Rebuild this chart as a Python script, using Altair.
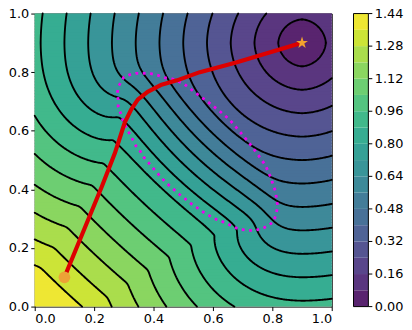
import math
import heapq
from collections import defaultdict
import numpy as np
import pandas as pd
import altair as alt

alt.data_transformers.disable_max_rows()

# ---------------- values ----------------
goal_xy = [0.90, 0.90]
start_xy = [0.10, 0.10]

path_x = [0.100, 0.226, 0.270, 0.303, 0.325, 0.347, 0.380, 0.424, 0.479, 0.556, 0.678, 0.900]
path_y = [0.100, 0.410, 0.524, 0.628, 0.673, 0.706, 0.733, 0.756, 0.772, 0.800, 0.833, 0.900]

obstacle_outline = [
    (0.278, 0.730), (0.283, 0.753), (0.300, 0.783), (0.319, 0.791), (0.341, 0.796),
    (0.366, 0.796), (0.391, 0.795), (0.415, 0.789), (0.437, 0.781), (0.463, 0.777),
    (0.501, 0.761), (0.545, 0.727), (0.582, 0.699), (0.619, 0.670), (0.656, 0.638),
    (0.689, 0.599), (0.719, 0.562), (0.749, 0.522), (0.777, 0.482), (0.796, 0.437),
    (0.811, 0.391), (0.818, 0.342), (0.813, 0.317), (0.806, 0.294), (0.789, 0.277),
    (0.767, 0.267), (0.745, 0.261), (0.720, 0.260), (0.697, 0.263), (0.673, 0.270),
    (0.650, 0.282), (0.627, 0.292), (0.605, 0.300), (0.585, 0.312), (0.563, 0.325),
    (0.542, 0.341), (0.524, 0.353), (0.505, 0.369), (0.487, 0.383), (0.468, 0.400),
    (0.450, 0.416), (0.433, 0.433), (0.416, 0.452), (0.400, 0.471), (0.383, 0.491),
    (0.369, 0.507), (0.356, 0.529), (0.341, 0.548), (0.331, 0.568), (0.319, 0.590),
    (0.308, 0.612), (0.297, 0.634), (0.290, 0.658), (0.281, 0.681), (0.281, 0.706),
    (0.278, 0.730),
]

# slow region (ellipse) used by the travel-time field
obstacle_center = [0.55, 0.53]
obstacle_axes = [0.352, 0.152]
obstacle_angle_deg = -45.0
obstacle_min_speed = 0.60
obstacle_blur = 0.03

levels = [0.00, 0.08, 0.16, 0.24, 0.32, 0.40, 0.48, 0.56, 0.64, 0.72,
          0.80, 0.88, 0.96, 1.04, 1.12, 1.20, 1.28, 1.36, 1.44]
colorbar_ticks = [0.00, 0.16, 0.32, 0.48, 0.64, 0.80, 0.96, 1.12, 1.28, 1.44]
colorbar_labels = ["0.00", "0.16", "0.32", "0.48", "0.64", "0.80", "0.96", "1.12", "1.28", "1.44"]
axis_ticks = [0.0, 0.2, 0.4, 0.6, 0.8, 1.0]
fill_alpha = 0.9

# five-pointed star marker outline (unit symbol coordinates)
STAR_PATH = ("M0,-1L0.2245,-0.309L0.951,-0.309L0.363,0.118L0.588,0.809L0,0.382"
             "L-0.588,0.809L-0.363,0.118L-0.951,-0.309L-0.2245,-0.309Z")

# layout of the colorbar strip, in x-data units right of the plot
PLOT_W, PLOT_H = 300, 296
cb_left, cb_right = 322 / PLOT_W, 337 / PLOT_W
cb_tick_end = cb_right + 4 / PLOT_W

# ---------------- travel-time field (fast marching) ----------------
N = 301
g = np.linspace(0.0, 1.0, N)
h = float(g[1] - g[0])
GX, GY = np.meshgrid(g, g)
th = math.radians(obstacle_angle_deg)
ddx = GX - obstacle_center[0]
ddy = GY - obstacle_center[1]
uu = ddx * math.cos(th) + ddy * math.sin(th)
vv = -ddx * math.sin(th) + ddy * math.cos(th)
r2 = (uu / obstacle_axes[0]) ** 2 + (vv / obstacle_axes[1]) ** 2
mask = (r2 < 1.0).astype(float)
rad = int(math.ceil(3 * obstacle_blur / h))
kern = np.exp(-0.5 * ((np.arange(-rad, rad + 1) * h) / obstacle_blur) ** 2)
kern /= kern.sum()
padm = np.pad(mask, rad)
tmp = np.array([np.convolve(r, kern, mode="valid") for r in padm])
blur = np.array([np.convolve(c, kern, mode="valid") for c in tmp.T]).T
speed = 1.0 - (1.0 - obstacle_min_speed) * blur


def travel_time(speed, h, src):
    ny, nx = speed.shape
    sp = speed.ravel().tolist()
    INF = float("inf")
    T = [INF] * (nx * ny)
    known = [False] * (nx * ny)
    heap = []
    si, sj = src[0] / h, src[1] / h
    for j in range(max(0, int(sj) - 3), min(ny, int(sj) + 4)):
        for i in range(max(0, int(si) - 3), min(nx, int(si) + 4)):
            d = math.hypot(i - si, j - sj)
            if d <= 2.0:
                k = j * nx + i
                T[k] = d * h / sp[k]
                heap.append((T[k], k))
    heapq.heapify(heap)
    sqrt = math.sqrt
    while heap:
        t, k = heapq.heappop(heap)
        if known[k]:
            continue
        known[k] = True
        j, i = divmod(k, nx)
        for kk, ok in ((k - 1, i > 0), (k + 1, i < nx - 1), (k - nx, j > 0), (k + nx, j < ny - 1)):
            if not ok or known[kk]:
                continue
            jj, ii = divmod(kk, nx)
            a = INF
            if ii > 0 and known[kk - 1]:
                a = T[kk - 1]
            if ii < nx - 1 and known[kk + 1] and T[kk + 1] < a:
                a = T[kk + 1]
            b = INF
            if jj > 0 and known[kk - nx]:
                b = T[kk - nx]
            if jj < ny - 1 and known[kk + nx] and T[kk + nx] < b:
                b = T[kk + nx]
            f = h / sp[kk]
            if a > b:
                a, b = b, a
            if b - a >= f:
                tn = a + f
            else:
                tn = 0.5 * (a + b + sqrt(2 * f * f - (b - a) * (b - a)))
            if tn < T[kk]:
                T[kk] = tn
                heapq.heappush(heap, (tn, kk))
    return np.array(T).reshape(ny, nx)


T = travel_time(speed, h, goal_xy)

# ---------------- filled bands as row runs (edges lie under the contour lines) ----------------
lv = np.array(levels)
mids = (lv[:-1] + lv[1:]) / 2.0
step = 3
gs = g[::step]
Ts = T[::step, ::step]
Ms = len(gs)
hs = float(gs[1] - gs[0])
band = np.clip(np.searchsorted(lv, Ts, side="right") - 1, 0, len(lv) - 2)
edges = np.concatenate([[0.0], (gs[:-1] + gs[1:]) / 2.0, [1.0]])
recs = []
for j in range(Ms):
    row = band[j]
    ch = np.flatnonzero(np.diff(row)) + 1
    starts = np.concatenate([[0], ch])
    ends = np.concatenate([ch, [Ms]])
    y0 = edges[j]
    y1 = min(1.0, edges[j + 1] + 0.4 * hs)
    for s, e in zip(starts, ends):
        recs.append((round(edges[s], 5), round(min(1.0, edges[e] + 0.4 * hs), 5),
                     round(y0, 5), round(y1, 5), round(float(mids[row[s]]), 3)))
rect_df = pd.DataFrame(recs, columns=["x0", "x1", "y0", "y1", "mid"])


# ---------------- contour lines (marching squares, chained into polylines) ----------------
def iso_segments(F, g, L):
    hh = g[1] - g[0]
    a = F[:-1, :-1]
    b = F[:-1, 1:]
    c = F[1:, 1:]
    d = F[1:, :-1]
    shp = a.shape
    X0 = np.broadcast_to(g[:-1][None, :], shp)
    X1 = np.broadcast_to(g[1:][None, :], shp)
    Y0 = np.broadcast_to(g[:-1][:, None], shp)
    Y1 = np.broadcast_to(g[1:][:, None], shp)
    with np.errstate(divide="ignore", invalid="ignore"):
        ex = np.stack([X0 + (L - a) / (b - a) * hh, X1, X0 + (L - d) / (c - d) * hh, X0])
        ey = np.stack([Y0, Y0 + (L - b) / (c - b) * hh, Y1, Y0 + (L - a) / (d - a) * hh])
    sa, sb, sc, sd = a > L, b > L, c > L, d > L
    m = np.stack([sa != sb, sb != sc, sd != sc, sa != sd])
    cnt = m.sum(axis=0)
    segs = []
    jj, ii = np.nonzero(cnt == 2)
    if len(jj):
        mm = m[:, jj, ii]
        e1 = np.argmax(mm, axis=0)
        e2 = 3 - np.argmax(mm[::-1], axis=0)
        segs.append(np.column_stack([ex[e1, jj, ii], ey[e1, jj, ii], ex[e2, jj, ii], ey[e2, jj, ii]]))
    for j, i in zip(*np.nonzero(cnt == 4)):
        ctr = (a[j, i] + b[j, i] + c[j, i] + d[j, i]) / 4.0 > L
        pairs = [(0, 3), (1, 2)] if sa[j, i] != ctr else [(0, 1), (2, 3)]
        for p, q in pairs:
            segs.append(np.array([[ex[p, j, i], ey[p, j, i], ex[q, j, i], ey[q, j, i]]]))
    return np.vstack(segs) if segs else np.zeros((0, 4))


def chain(segs):
    adj = defaultdict(list)
    keys = []
    for idx, (x1, y1, x2, y2) in enumerate(segs):
        k1 = (round(float(x1), 9), round(float(y1), 9))
        k2 = (round(float(x2), 9), round(float(y2), 9))
        adj[k1].append((idx, k2))
        adj[k2].append((idx, k1))
        keys.append(k1)
    used = [False] * len(segs)
    lines = []
    starts = [k for k, v in adj.items() if len(v) == 1] + keys
    for st in starts:
        for idx, nxt in adj[st]:
            if used[idx]:
                continue
            used[idx] = True
            line = [st, nxt]
            cur = nxt
            while True:
                found = False
                for i2, n2 in adj[cur]:
                    if not used[i2]:
                        used[i2] = True
                        cur = n2
                        line.append(cur)
                        found = True
                        break
                if not found:
                    break
            lines.append(line)
    return lines


rows = []
cid = 0
for L in levels[1:-1]:
    for line in chain(iso_segments(T, g, L)):
        for o, (px, py) in enumerate(line):
            rows.append((round(px, 5), round(py, 5), cid, o))
        cid += 1
line_df = pd.DataFrame(rows, columns=["x", "y", "cid", "o"])

path_df = pd.DataFrame({"x": path_x, "y": path_y, "o": list(range(len(path_x)))})
obs_df = pd.DataFrame({"x": [p[0] for p in obstacle_outline],
                       "y": [p[1] for p in obstacle_outline],
                       "o": list(range(len(obstacle_outline)))})
start_df = pd.DataFrame({"x": [start_xy[0]], "y": [start_xy[1]]})
goal_df = pd.DataFrame({"x": [goal_xy[0]], "y": [goal_xy[1]]})
overlay_df = pd.DataFrame({"x0": [0.0], "x1": [1.0], "y0": [0.0], "y1": [1.0]})

# colorbar: value axis 0..1.44 shown along the plot height
vmax = levels[-1]
cb_df = pd.DataFrame({"x0": cb_left, "x1": cb_right,
                      "y0": lv[:-1] / vmax, "y1": lv[1:] / vmax, "mid": mids})
cb_frame_df = pd.DataFrame({"x0": [cb_left], "x1": [cb_right], "y0": [0.0], "y1": [1.0]})
cb_tick_df = pd.DataFrame({"x0": cb_right, "x1": cb_tick_end,
                           "y": np.array(colorbar_ticks) / vmax, "label": colorbar_labels})

# ---------------- chart ----------------
FONT = "DejaVu Sans"
xs = alt.Scale(domain=[0, 1], nice=False, zero=False)
ys = alt.Scale(domain=[0, 1], nice=False, zero=False)
color_scale = alt.Scale(scheme="viridis", domain=[levels[0], levels[-1]])
axis_common = dict(title=None, grid=False, domain=False, ticks=True, tickSize=4,
                   tickColor="black", tickWidth=1, labelColor="black",
                   labelFontSize=13, labelFont=FONT, labelPadding=2)
x_axis = alt.Axis(values=axis_ticks, format=".1f", orient="bottom", **axis_common)
y_axis = alt.Axis(values=axis_ticks, format=".1f", orient="left", **axis_common)


def X(f):
    return alt.X(f, type="quantitative", scale=xs, axis=x_axis)


def Y(f):
    return alt.Y(f, type="quantitative", scale=ys, axis=y_axis)


layers = [alt.Chart(rect_df).mark_rect(strokeWidth=0).encode(
    x=X("x0"), x2="x1:Q", y=Y("y0"), y2="y1:Q",
    color=alt.Color("mid:Q", scale=color_scale, legend=None))]
if fill_alpha < 1.0:
    layers.append(alt.Chart(overlay_df).mark_rect(color="white", opacity=1.0 - fill_alpha).encode(
        x=X("x0"), x2="x1:Q", y=Y("y0"), y2="y1:Q"))
layers.append(alt.Chart(line_df).mark_line(color="black", strokeWidth=1.9, strokeJoin="round",
                                           strokeCap="round").encode(
    x=X("x"), y=Y("y"), detail="cid:N", order="o:Q"))
layers.append(alt.Chart(obs_df).mark_line(color="#ee00ee", strokeWidth=2.8, strokeDash=[2.8, 4.6],
                                          strokeCap="butt").encode(x=X("x"), y=Y("y"), order="o:Q"))
layers.append(alt.Chart(path_df).mark_line(color="#dd0000", strokeWidth=4.2, strokeJoin="round",
                                           strokeCap="butt").encode(x=X("x"), y=Y("y"), order="o:Q"))
layers.append(alt.Chart(start_df).mark_circle(size=140, color="#eca336", opacity=1).encode(
    x=X("x"), y=Y("y")))
layers.append(alt.Chart(goal_df).mark_point(shape=STAR_PATH, filled=True, size=160, color="#f2a32e",
                                            opacity=1).encode(x=X("x"), y=Y("y")))

# colorbar strip
layers.append(alt.Chart(cb_df).mark_rect(strokeWidth=0, clip=False).encode(
    x=X("x0"), x2="x1:Q", y=Y("y0"), y2="y1:Q",
    color=alt.Color("mid:Q", scale=color_scale, legend=None)))
if fill_alpha < 1.0:
    layers.append(alt.Chart(cb_frame_df).mark_rect(color="white", opacity=1.0 - fill_alpha, clip=False).encode(
        x=X("x0"), x2="x1:Q", y=Y("y0"), y2="y1:Q"))
layers.append(alt.Chart(cb_frame_df).mark_rect(fillOpacity=0, stroke="black", strokeWidth=1, clip=False).encode(
    x=X("x0"), x2="x1:Q", y=Y("y0"), y2="y1:Q"))
layers.append(alt.Chart(cb_tick_df).mark_rule(color="black", strokeWidth=1, clip=False).encode(
    x=X("x0"), x2="x1:Q", y=Y("y")))
layers.append(alt.Chart(cb_tick_df).mark_text(align="left", baseline="middle", dx=2.5, font=FONT,
                                               fontSize=13, color="black", clip=False).encode(
    x=X("x1"), y=Y("y"), text="label:N"))

chart = alt.layer(*layers).properties(
    width=PLOT_W, height=PLOT_H,
    padding={"left": 0, "top": -2, "right": 0, "bottom": 0},
    background="white",
).configure_view(stroke="black", strokeWidth=1)

chart.save("out.html", embed_options={"renderer": "svg", "actions": False})
